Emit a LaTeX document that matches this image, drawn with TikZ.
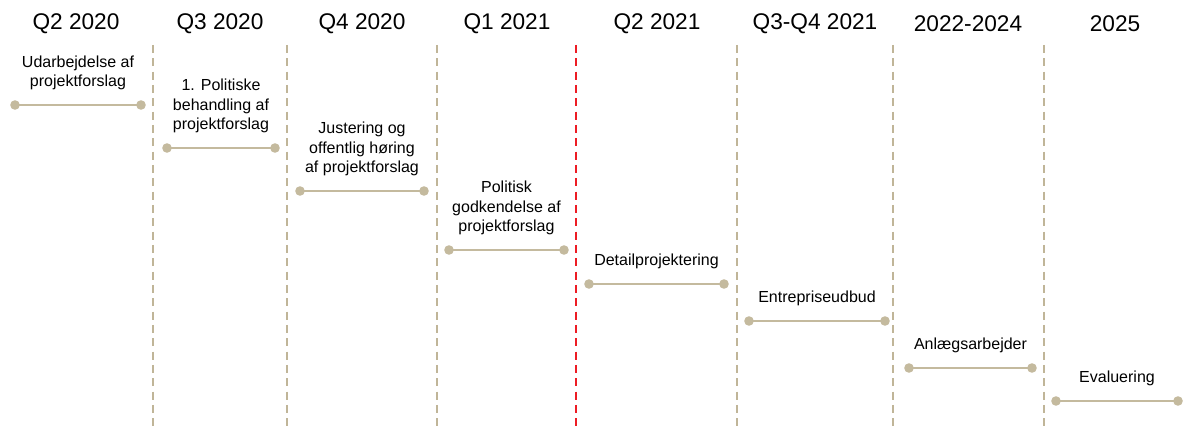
\documentclass[tikz,border=0pt]{standalone}
\usepackage{fontspec}
\setmainfont{Liberation Sans}
\usepackage{xcolor}
\usetikzlibrary{positioning}

\definecolor{phasetan}{RGB}{196,186,158}
\definecolor{gridtan}{RGB}{192,181,152}
\definecolor{nowred}{RGB}{237,28,36}

\begin{document}
\begin{tikzpicture} [
            x=0.75pt, y=-0.75pt,
            % ----- Style definitions ----- %
            quarternode/.style = {
                font=\fontsize{17}{20}\selectfont,
                inner sep=0pt
            },
            phaselabel/.style = {
                align=center,
                inner sep=0pt,
                font=\fontsize{12}{14.6}\selectfont
            },
            phaseline/.style = {
                draw=phasetan,
                line width=1.9pt
            },
            phasedot/.style = {
                fill=phasetan
            },
            divider/.style = {
                draw=gridtan,
                line width=1.5pt,
                dash pattern=on 6pt off 4pt
            },
            nowdivider/.style = {
                divider,
                draw=nowred
            },
    ]
    \useasboundingbox (0,0) rectangle (1186,427);

            % ----- Column dividers ----- %
    \foreach \xpos in {153,287,437,737,893,1044} {
        \draw [divider] (\xpos,45) -- (\xpos,427);
    }
    \draw [nowdivider] (576,45) -- (576,427);

            % ----- Column headings ----- %
    \node [quarternode] (q1) at (76,24)   {Q2 2020};
    \node [quarternode] (q2) at (220,24)  {Q3 2020};
    \node [quarternode] (q3) at (362,24)  {Q4 2020};
    \node [quarternode] (q4) at (507,24)  {Q1 2021};
    \node [quarternode] (q5) at (657,24)  {Q2 2021};
    \node [quarternode] (q6) at (815,24)  {Q3-Q4 2021};
    \node [quarternode] (q7) at (968,24)  {2022-2024};
    \node [quarternode] (q8) at (1115,24) {2025};

            % ----- Phase bars ----- %
    \coordinate (s1) at (15,105);   \coordinate (e1) at (141,105);
    \coordinate (s2) at (167,148);  \coordinate (e2) at (275,148);
    \coordinate (s3) at (300,191);  \coordinate (e3) at (424,191);
    \coordinate (s4) at (449,250);  \coordinate (e4) at (564,250);
    \coordinate (s5) at (589,284);  \coordinate (e5) at (724,284);
    \coordinate (s6) at (749,321);  \coordinate (e6) at (885,321);
    \coordinate (s7) at (909,368);  \coordinate (e7) at (1032,368);
    \coordinate (s8) at (1056,401); \coordinate (e8) at (1178,401);

    \draw [phaseline] (s1) -- (e1) coordinate[midway] (m1);
    \draw [phaseline] (s2) -- (e2) coordinate[midway] (m2);
    \draw [phaseline] (s3) -- (e3) coordinate[midway] (m3);
    \draw [phaseline] (s4) -- (e4) coordinate[midway] (m4);
    \draw [phaseline] (s5) -- (e5) coordinate[midway] (m5);
    \draw [phaseline] (s6) -- (e6) coordinate[midway] (m6);
    \draw [phaseline] (s7) -- (e7) coordinate[midway] (m7);
    \draw [phaseline] (s8) -- (e8) coordinate[midway] (m8);

    \foreach \bar in {1,...,8} {
        \fill [phasedot] (s\bar) circle (3.6pt);
        \fill [phasedot] (e\bar) circle (3.6pt);
    }

            % ----- Phase labels ----- %
    \node [phaselabel, above=11pt of m1] (l1) {Udarbejdelse af\\projektforslag};
    \node [phaselabel, above=11pt of m2] (l2) {1. Politiske\\behandling af\\projektforslag};
    \node [phaselabel, above=11pt of m3] (l3) {Justering og\\offentlig høring\\af projektforslag};
    \node [phaselabel, above=11pt of m4] (l4) {Politisk\\godkendelse af\\projektforslag};
    \node [phaselabel, above=11pt of m5] (l5) {Detailprojektering};
    \node [phaselabel, above=11pt of m6] (l6) {Entrepriseudbud};
    \node [phaselabel, above=11pt of m7] (l7) {Anlægsarbejder};
    \node [phaselabel, above=11pt of m8] (l8) {Evaluering};

\end{tikzpicture}
\end{document}
